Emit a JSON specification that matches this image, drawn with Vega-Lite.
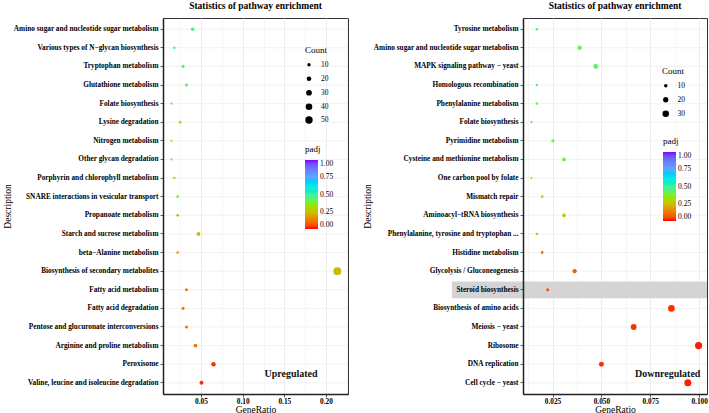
{
  "$schema": "https://vega.github.io/schema/vega-lite/v6.json",
  "background": "white",
  "padding": {"left": 1, "top": 0, "right": 1, "bottom": 0},
  "spacing": 12,
  "resolve": {
    "scale": {"size": "independent", "color": "independent"},
    "legend": {"size": "independent", "color": "independent"}
  },
  "datasets": {
    "up": [
      {"Description": "Amino sugar and nucleotide sugar metabolism", "GeneRatio": 0.040, "Count": 11, "padj": 0.46},
      {"Description": "Various types of N−glycan biosynthesis", "GeneRatio": 0.018, "Count": 5, "padj": 0.48},
      {"Description": "Tryptophan metabolism", "GeneRatio": 0.0285, "Count": 8, "padj": 0.44},
      {"Description": "Glutathione metabolism", "GeneRatio": 0.0326, "Count": 9, "padj": 0.43},
      {"Description": "Folate biosynthesis", "GeneRatio": 0.0146, "Count": 4, "padj": 0.47},
      {"Description": "Lysine degradation", "GeneRatio": 0.025, "Count": 7, "padj": 0.37},
      {"Description": "Nitrogen metabolism", "GeneRatio": 0.0146, "Count": 4, "padj": 0.35},
      {"Description": "Other glycan degradation", "GeneRatio": 0.0146, "Count": 4, "padj": 0.35},
      {"Description": "Porphyrin and chlorophyll metabolism", "GeneRatio": 0.018, "Count": 5, "padj": 0.37},
      {"Description": "SNARE interactions in vesicular transport", "GeneRatio": 0.022, "Count": 6, "padj": 0.39},
      {"Description": "Propanoate metabolism", "GeneRatio": 0.022, "Count": 6, "padj": 0.22},
      {"Description": "Starch and sucrose metabolism", "GeneRatio": 0.047, "Count": 13, "padj": 0.23},
      {"Description": "beta−Alanine metabolism", "GeneRatio": 0.022, "Count": 6, "padj": 0.2},
      {"Description": "Biosynthesis of secondary metabolites", "GeneRatio": 0.2136, "Count": 57, "padj": 0.23},
      {"Description": "Fatty acid metabolism", "GeneRatio": 0.0326, "Count": 9, "padj": 0.14},
      {"Description": "Fatty acid degradation", "GeneRatio": 0.0285, "Count": 8, "padj": 0.13},
      {"Description": "Pentose and glucuronate interconversions", "GeneRatio": 0.0326, "Count": 9, "padj": 0.14},
      {"Description": "Arginine and proline metabolism", "GeneRatio": 0.0434, "Count": 12, "padj": 0.12},
      {"Description": "Peroxisome", "GeneRatio": 0.065, "Count": 18, "padj": 0.02},
      {"Description": "Valine, leucine and isoleucine degradation", "GeneRatio": 0.0506, "Count": 14, "padj": 0.02}
    ],
    "down": [
      {"Description": "Tyrosine metabolism", "GeneRatio": 0.0170, "Count": 6, "padj": 0.43},
      {"Description": "Amino sugar and nucleotide sugar metabolism", "GeneRatio": 0.0389, "Count": 14, "padj": 0.43},
      {"Description": "MAPK signaling pathway − yeast", "GeneRatio": 0.0471, "Count": 17, "padj": 0.43},
      {"Description": "Homologous recombination", "GeneRatio": 0.0170, "Count": 6, "padj": 0.42},
      {"Description": "Phenylalanine metabolism", "GeneRatio": 0.0170, "Count": 6, "padj": 0.42},
      {"Description": "Folate biosynthesis", "GeneRatio": 0.0142, "Count": 5, "padj": 0.40},
      {"Description": "Pyrimidine metabolism", "GeneRatio": 0.0252, "Count": 9, "padj": 0.39},
      {"Description": "Cysteine and methionine metabolism", "GeneRatio": 0.0309, "Count": 11, "padj": 0.39},
      {"Description": "One carbon pool by folate", "GeneRatio": 0.0142, "Count": 5, "padj": 0.36},
      {"Description": "Mismatch repair", "GeneRatio": 0.0197, "Count": 7, "padj": 0.35},
      {"Description": "Aminoacyl−tRNA biosynthesis", "GeneRatio": 0.0309, "Count": 11, "padj": 0.29},
      {"Description": "Phenylalanine, tyrosine and tryptophan ...", "GeneRatio": 0.0170, "Count": 6, "padj": 0.26},
      {"Description": "Histidine metabolism", "GeneRatio": 0.0197, "Count": 7, "padj": 0.13},
      {"Description": "Glycolysis / Gluconeogenesis", "GeneRatio": 0.0363, "Count": 13, "padj": 0.07},
      {"Description": "Steroid biosynthesis", "GeneRatio": 0.0225, "Count": 8, "padj": 0.06},
      {"Description": "Biosynthesis of amino acids", "GeneRatio": 0.0858, "Count": 31, "padj": 0.02},
      {"Description": "Meiosis − yeast", "GeneRatio": 0.0665, "Count": 24, "padj": 0.02},
      {"Description": "Ribosome", "GeneRatio": 0.0997, "Count": 36, "padj": 0.01},
      {"Description": "DNA replication", "GeneRatio": 0.0500, "Count": 18, "padj": 0.02},
      {"Description": "Cell cycle − yeast", "GeneRatio": 0.0942, "Count": 34, "padj": 0.01}
    ]
  },
  "config": {
    "font": "Liberation Serif",
    "view": {"stroke": "#333333", "strokeWidth": 1},
    "title": {"font": "Liberation Serif", "fontSize": 9.5, "fontWeight": "bold", "color": "#000000", "frame": "group", "anchor": "middle", "offset": 8},
    "axis": {
      "labelFont": "Liberation Serif", "titleFont": "Liberation Serif",
      "labelColor": "#000000", "titleColor": "#000000",
      "titleFontWeight": "normal", "labelFontWeight": "bold",
      "labelFontSize": 7.3, "titleFontSize": 9.5,
      "tickColor": "#333333", "tickSize": 3, "tickWidth": 0.8,
      "domainColor": "#222222", "domainWidth": 1.5, "labelPadding": 2,
      "gridColor": "#ebebeb"
    },
    "legend": {
      "labelFont": "Liberation Serif", "titleFont": "Liberation Serif",
      "labelFontSize": 7.5, "titleFontSize": 9, "titleFontWeight": "normal",
      "labelColor": "#000000", "titleColor": "#000000", "titlePadding": 6
    }
  },
  "hconcat": [
    {
      "width": 185,
      "height": 376,
      "title": {"text": "Statistics of pathway enrichment"},
      "data": {"name": "up"},
      "resolve": {"axis": {"x": "independent"}},
      "encoding": {
        "y": {
          "field": "Description", "type": "nominal", "sort": null,
          "scale": {"paddingInner": 0, "paddingOuter": 0.1, "domain": ["Amino sugar and nucleotide sugar metabolism", "Various types of N−glycan biosynthesis", "Tryptophan metabolism", "Glutathione metabolism", "Folate biosynthesis", "Lysine degradation", "Nitrogen metabolism", "Other glycan degradation", "Porphyrin and chlorophyll metabolism", "SNARE interactions in vesicular transport", "Propanoate metabolism", "Starch and sucrose metabolism", "beta−Alanine metabolism", "Biosynthesis of secondary metabolites", "Fatty acid metabolism", "Fatty acid degradation", "Pentose and glucuronate interconversions", "Arginine and proline metabolism", "Peroxisome", "Valine, leucine and isoleucine degradation"]},
          "axis": {"title": "Description", "grid": false, "zindex": 1, "titlePadding": 1}
        }
      },
      "layer": [
        {
          "mark": {"type": "rule", "color": "#ebebeb", "strokeWidth": 0.7}
        },
        {
          "mark": {"type": "circle", "opacity": 1},
          "encoding": {
            "x": {
              "field": "GeneRatio", "type": "quantitative",
              "scale": {"domain": [0.0044, 0.2264], "nice": false, "zero": false},
              "axis": {
                "orient": "bottom",
                "title": "GeneRatio", "titlePadding": 0, "labelPadding": 0.5,
                "values": [0.05, 0.1, 0.15, 0.2],
                "format": ".2f",
                "grid": true, "gridWidth": 0.9
              }
            },
            "size": {
              "field": "Count", "type": "quantitative",
              "scale": {"domain": [4, 57], "range": [5, 62], "zero": false},
              "legend": {"title": "Count", "values": [10, 20, 30, 40, 50], "orient": "none", "legendX": 142, "legendY": 28, "symbolFillColor": "black", "symbolStrokeColor": "black", "symbolStrokeWidth": 0, "rowPadding": 5, "labelOffset": 8}
            },
            "color": {
              "field": "padj", "type": "quantitative",
              "scale": {"domain": [0, 1], "range": ["#ff0000", "#f07800", "#c8c000", "#80f020", "#40f0a0", "#30e8e8", "#60a8ff", "#6c78ff", "#8000ff"]},
              "legend": {"title": "padj", "orient": "none", "legendX": 142, "legendY": 127, "gradientLength": 69, "gradientThickness": 13, "values": [0, 0.25, 0.5, 0.75, 1], "format": ".2f", "gradientStrokeWidth": 0}
            }
          }
        },
        {
          "data": {"values": [{"label": "Upregulated"}]},
          "mark": {"type": "text", "fontSize": 10, "fontWeight": "bold", "font": "Liberation Serif", "color": "#111111", "dy": -9, "align": "center", "baseline": "middle"},
          "encoding": {
            "x": {
              "datum": 0.158, "type": "quantitative",
              "axis": {"orient": "top", "values": [0.025, 0.075, 0.125, 0.175, 0.225], "labels": false, "ticks": false, "domain": false, "title": null, "grid": true, "gridWidth": 0.45}
            },
            "y": {"datum": "Valine, leucine and isoleucine degradation"},
            "text": {"field": "label", "type": "nominal"}
          }
        }
      ]
    },
    {
      "width": 184,
      "height": 376,
      "title": {"text": "Statistics of pathway enrichment"},
      "data": {"name": "down"},
      "resolve": {"axis": {"x": "independent"}},
      "encoding": {
        "y": {
          "field": "Description", "type": "nominal", "sort": null,
          "scale": {"paddingInner": 0, "paddingOuter": 0.1, "domain": ["Tyrosine metabolism", "Amino sugar and nucleotide sugar metabolism", "MAPK signaling pathway − yeast", "Homologous recombination", "Phenylalanine metabolism", "Folate biosynthesis", "Pyrimidine metabolism", "Cysteine and methionine metabolism", "One carbon pool by folate", "Mismatch repair", "Aminoacyl−tRNA biosynthesis", "Phenylalanine, tyrosine and tryptophan ...", "Histidine metabolism", "Glycolysis / Gluconeogenesis", "Steroid biosynthesis", "Biosynthesis of amino acids", "Meiosis − yeast", "Ribosome", "DNA replication", "Cell cycle − yeast"]},
          "axis": {"title": "Description", "grid": false, "zindex": 1, "titlePadding": 1}
        }
      },
      "layer": [
        {
          "mark": {"type": "rule", "color": "#ebebeb", "strokeWidth": 0.7}
        },
        {
          "data": {"values": [{"Description": "Steroid biosynthesis", "from": -0.0265, "to": 0.104}]},
          "mark": {"type": "rect", "color": "#d4d4d4", "clip": false, "height": {"band": 0.9}},
          "encoding": {
            "x": {
              "field": "from", "type": "quantitative",
              "axis": {"orient": "top", "values": [0.0125, 0.0375, 0.0625, 0.0875], "labels": false, "ticks": false, "domain": false, "title": null, "grid": true, "gridWidth": 0.45}
            },
            "x2": {"field": "to"}
          }
        },
        {
          "mark": {"type": "circle", "opacity": 1},
          "encoding": {
            "x": {
              "field": "GeneRatio", "type": "quantitative",
              "scale": {"domain": [0.0099, 0.104], "nice": false, "zero": false},
              "axis": {
                "orient": "bottom",
                "title": "GeneRatio", "titlePadding": 0, "labelPadding": 0.5,
                "values": [0.025, 0.05, 0.075, 0.1],
                "format": ".3f",
                "grid": true, "gridWidth": 0.9
              }
            },
            "size": {
              "field": "Count", "type": "quantitative",
              "scale": {"domain": [5, 36], "range": [5, 52], "zero": false},
              "legend": {"title": "Count", "values": [10, 20, 30], "orient": "none", "legendX": 139, "legendY": 49, "symbolFillColor": "black", "symbolStrokeColor": "black", "symbolStrokeWidth": 0, "rowPadding": 5, "labelOffset": 8}
            },
            "color": {
              "field": "padj", "type": "quantitative",
              "scale": {"domain": [0, 1], "range": ["#ff0000", "#f07800", "#c8c000", "#80f020", "#40f0a0", "#30e8e8", "#60a8ff", "#6c78ff", "#8000ff"]},
              "legend": {"title": "padj", "orient": "none", "legendX": 140, "legendY": 119, "gradientLength": 69, "gradientThickness": 13, "values": [0, 0.25, 0.5, 0.75, 1], "format": ".2f", "gradientStrokeWidth": 0}
            }
          }
        },
        {
          "data": {"values": [{"label": "Downregulated"}]},
          "mark": {"type": "text", "fontSize": 10, "fontWeight": "bold", "font": "Liberation Serif", "color": "#111111", "dy": -9, "align": "center", "baseline": "middle"},
          "encoding": {
            "x": {"datum": 0.0839, "type": "quantitative", "axis": null},
            "y": {"datum": "Cell cycle − yeast"},
            "text": {"field": "label", "type": "nominal"}
          }
        }
      ]
    }
  ]
}
